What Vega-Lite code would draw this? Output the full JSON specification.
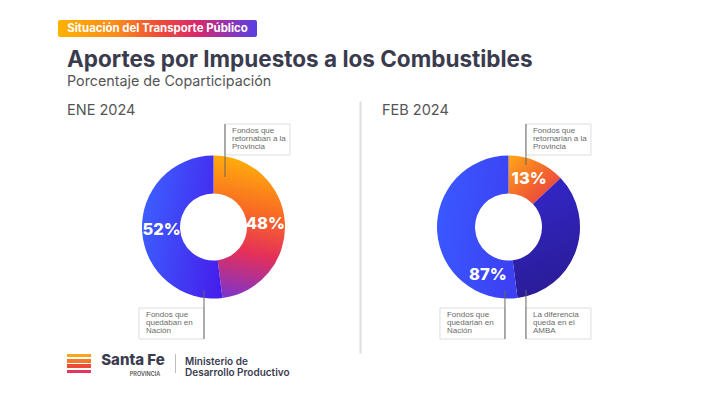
{
  "$schema": "https://vega.github.io/schema/vega-lite/v6.json",
  "background": "white",
  "padding": {"left": 58, "top": 20, "right": 0, "bottom": 0},
  "bounds": "flush",
  "spacing": 64,
  "config": {"view": {"stroke": null}, "font": "Inter"},
  "datasets": {
    "aportes": [
      {"mes": "ENE 2024", "destino": "Provincia", "grupo": "Provincia", "porcentaje": 0.48},
      {"mes": "ENE 2024", "destino": "Nación", "grupo": "Nación", "porcentaje": 0.52},
      {"mes": "FEB 2024", "destino": "Provincia", "grupo": "Provincia", "porcentaje": 0.13},
      {"mes": "FEB 2024", "destino": "AMBA", "grupo": "Nación", "porcentaje": 0.35},
      {"mes": "FEB 2024", "destino": "Nación", "grupo": "Nación", "porcentaje": 0.52}
    ],
    "notas": [
      {"mes": "ENE 2024", "destino": "Provincia", "texto": "Fondos que\nretornaban a la\nProvincia", "lado": "derecha", "nivel": "arriba"},
      {"mes": "ENE 2024", "destino": "Nación", "texto": "Fondos que\nquedaban en\nNación", "lado": "izquierda", "nivel": "abajo"},
      {"mes": "FEB 2024", "destino": "Provincia", "texto": "Fondos que\nretornarian a la\nProvincia", "lado": "derecha", "nivel": "arriba"},
      {"mes": "FEB 2024", "destino": "Nación", "texto": "Fondos que\nquedarian en\nNación", "lado": "izquierda", "nivel": "abajo"},
      {"mes": "FEB 2024", "destino": "AMBA", "texto": "La diferencia\nqueda en el\nAMBA", "lado": "derecha", "nivel": "abajo"}
    ]
  },
  "vconcat": [
    {
      "width": 199,
      "height": 17,
      "data": {"values": [{"etiqueta": "Situación del Transporte Público"}]},
      "layer": [
        {
          "mark": {"type": "rect", "xOffset": -9, "cornerRadius": 2,
            "fill": {"gradient": "linear", "x1": 0, "y1": 0, "x2": 1, "y2": 0, "stops": [
              {"offset": 0, "color": "#FFB200"}, {"offset": 0.3, "color": "#F98A1E"}, {"offset": 0.5, "color": "#EF4D37"},
              {"offset": 0.7, "color": "#D9286A"}, {"offset": 0.87, "color": "#8B35B8"}, {"offset": 1, "color": "#5740E3"}]}},
          "encoding": {
            "x": {"field": "etiqueta", "type": "nominal", "axis": null, "scale": {"type": "band", "paddingInner": 0, "paddingOuter": 0}}
          }
        },
        {
          "mark": {"type": "text", "dx": -9, "fontSize": 11.4, "fontWeight": 700, "fill": "white", "font": "Inter"},
          "encoding": {"text": {"field": "etiqueta"}}
        }
      ]
    },
    {
      "title": {
        "text": "Aportes por Impuestos a los Combustibles",
        "subtitle": "Porcentaje de Coparticipación",
        "anchor": "start", "font": "Inter", "fontSize": 22.5, "fontWeight": 700, "color": "#3A3B4D",
        "subtitleFont": "Inter", "subtitleFontSize": 14.3, "subtitleColor": "#555555", "subtitlePadding": 3,
        "offset": 12
      },
      "spacing": 0,
      "vconcat": [
        {
          "spacing": 2,
          "hconcat": [
            {
              "width": 293,
              "height": 252,
              "title": {"text": "ENE 2024", "anchor": "start", "fontSize": 14.5, "fontWeight": 400, "color": "#555555", "font": "Inter", "baseline": "alphabetic", "offset": -28},
              "layer": [
                {
                  "data": {"name": "aportes"},
                  "transform": [
                    {"filter": "datum.mes === 'ENE 2024'"},
                    {"stack": "porcentaje", "groupby": ["mes"], "sort": [{"field": "grupo", "order": "descending"}, {"field": "destino", "order": "ascending"}], "as": ["inicio", "fin"]},
                    {"filter": "datum.destino === 'Provincia'"}
                  ],
                  "mark": {"type": "arc", "innerRadius": 33.5, "outerRadius": 71.5,
                    "fill": {"gradient": "linear", "x1": 0.2, "y1": 0, "x2": 0.1, "y2": 1, "stops": [
                      {"offset": 0, "color": "#FFAE0A"}, {"offset": 0.35, "color": "#F96A24"}, {"offset": 0.65, "color": "#E42F5A"}, {"offset": 1, "color": "#7A34D0"}]}},
                  "encoding": {"theta": {"field": "inicio", "type": "quantitative", "scale": {"domain": [0, 1]}}, "theta2": {"field": "fin"}}
                },
                {
                  "data": {"name": "aportes"},
                  "transform": [
                    {"filter": "datum.mes === 'ENE 2024'"},
                    {"stack": "porcentaje", "groupby": ["mes"], "sort": [{"field": "grupo", "order": "descending"}, {"field": "destino", "order": "ascending"}], "as": ["inicio", "fin"]},
                    {"filter": "datum.destino === 'Nación'"}
                  ],
                  "mark": {"type": "arc", "innerRadius": 33.5, "outerRadius": 71.5,
                    "fill": {"gradient": "linear", "x1": 0, "y1": 0.4, "x2": 1, "y2": 0.7, "stops": [
                      {"offset": 0, "color": "#3D5EFF"}, {"offset": 1, "color": "#4520EC"}]}},
                  "encoding": {"theta": {"field": "inicio", "type": "quantitative", "scale": {"domain": [0, 1]}}, "theta2": {"field": "fin"}}
                },
                {
                  "data": {"name": "aportes"},
                  "transform": [
                    {"filter": "datum.mes === 'ENE 2024'"},
                    {"aggregate": [{"op": "sum", "field": "porcentaje", "as": "total"}], "groupby": ["grupo"]}
                  ],
                  "mark": {"type": "text", "radius": 52, "fontSize": 16.5, "fontWeight": 800, "fill": "white", "font": "Inter"},
                  "encoding": {
                    "theta": {"field": "total", "type": "quantitative", "stack": true, "scale": {"domain": [0, 1]}},
                    "order": {"field": "grupo", "sort": "descending"},
                    "text": {"field": "total", "type": "quantitative", "format": ".0%"}
                  }
                },
                {
                  "data": {"name": "notas"},
                  "transform": [{"filter": "datum.mes === 'ENE 2024'"}],
                  "mark": {"type": "rect", "fill": "white", "stroke": "#dedede", "strokeWidth": 1},
                  "encoding": {
                    "x": {"field": "lado", "type": "nominal", "axis": null, "scale": {"type": "band", "domain": ["izquierda", "derecha"], "paddingInner": 0.2442, "paddingOuter": 0.8256, "align": 0.507}},
                    "y": {"field": "nivel", "type": "nominal", "axis": {"orient": "right", "domain": true, "domainColor": "#dddddd", "domainWidth": 2, "ticks": false, "labels": false, "title": null, "grid": false}, "scale": {"type": "band", "domain": ["arriba", "abajo"], "paddingInner": 0.8315, "paddingOuter": 0.1005, "align": 0.6216}}
                  }
                },
                {
                  "data": {"name": "notas"},
                  "transform": [{"filter": "datum.mes === 'ENE 2024'"}],
                  "mark": {"type": "text", "align": "left", "baseline": "top", "dx": 7, "dy": 3, "lineBreak": "\n", "lineHeight": 8, "fontSize": 8, "font": "Liberation Sans", "fill": "#6b6b6b"},
                  "encoding": {
                    "x": {"field": "lado", "type": "nominal", "bandPosition": 0, "axis": null, "scale": {"type": "band", "domain": ["izquierda", "derecha"], "paddingInner": 0.2442, "paddingOuter": 0.8256, "align": 0.507}},
                    "y": {"field": "nivel", "type": "nominal", "bandPosition": 0, "axis": {"orient": "right", "domain": true, "domainColor": "#dddddd", "domainWidth": 2, "ticks": false, "labels": false, "title": null, "grid": false}, "scale": {"type": "band", "domain": ["arriba", "abajo"], "paddingInner": 0.8315, "paddingOuter": 0.1005, "align": 0.6216}},
                    "text": {"field": "texto"}
                  }
                },
                {
                  "data": {"name": "notas"},
                  "transform": [{"filter": "datum.mes === 'ENE 2024' && datum.lado === 'derecha' && datum.nivel === 'arriba'"}],
                  "mark": {"type": "rule", "stroke": "#666666", "strokeWidth": 1, "y2Offset": 37.5},
                  "encoding": {
                    "x": {"field": "lado", "type": "nominal", "bandPosition": 0, "axis": null, "scale": {"type": "band", "domain": ["izquierda", "derecha"], "paddingInner": 0.2442, "paddingOuter": 0.8256, "align": 0.507}},
                    "y": {"field": "nivel", "type": "nominal", "bandPosition": 0, "axis": {"orient": "right", "domain": true, "domainColor": "#dddddd", "domainWidth": 2, "ticks": false, "labels": false, "title": null, "grid": false}, "scale": {"type": "band", "domain": ["arriba", "abajo"], "paddingInner": 0.8315, "paddingOuter": 0.1005, "align": 0.6216}},
                    "y2": {"field": "nivel"}
                  }
                },
                {
                  "data": {"name": "notas"},
                  "transform": [{"filter": "datum.mes === 'ENE 2024' && datum.lado === 'izquierda' && datum.nivel === 'abajo'"}],
                  "mark": {"type": "rule", "stroke": "#666666", "strokeWidth": 1, "y2Offset": -33.5},
                  "encoding": {
                    "x": {"field": "lado", "type": "nominal", "bandPosition": 1, "axis": null, "scale": {"type": "band", "domain": ["izquierda", "derecha"], "paddingInner": 0.2442, "paddingOuter": 0.8256, "align": 0.507}},
                    "y": {"field": "nivel", "type": "nominal", "bandPosition": 1, "axis": {"orient": "right", "domain": true, "domainColor": "#dddddd", "domainWidth": 2, "ticks": false, "labels": false, "title": null, "grid": false}, "scale": {"type": "band", "domain": ["arriba", "abajo"], "paddingInner": 0.8315, "paddingOuter": 0.1005, "align": 0.6216}},
                    "y2": {"field": "nivel"}
                  }
                }
              ]
            },
            {
              "width": 293,
              "height": 252,
              "title": {"text": "FEB 2024", "anchor": "start", "fontSize": 14.5, "fontWeight": 400, "color": "#555555", "font": "Inter", "baseline": "alphabetic", "offset": -28, "dx": 20},
              "layer": [
                {
                  "data": {"name": "aportes"},
                  "transform": [
                    {"filter": "datum.mes === 'FEB 2024'"},
                    {"stack": "porcentaje", "groupby": ["mes"], "sort": [{"field": "grupo", "order": "descending"}, {"field": "destino", "order": "ascending"}], "as": ["inicio", "fin"]},
                    {"filter": "datum.destino === 'Provincia'"}
                  ],
                  "mark": {"type": "arc", "innerRadius": 33.5, "outerRadius": 71.5,
                    "fill": {"gradient": "linear", "x1": 0, "y1": 0, "x2": 1, "y2": 1, "stops": [
                      {"offset": 0, "color": "#FFA818"}, {"offset": 0.5, "color": "#F4682C"}, {"offset": 1, "color": "#E4344E"}]}},
                  "encoding": {"theta": {"field": "inicio", "type": "quantitative", "scale": {"domain": [0, 1]}}, "theta2": {"field": "fin"}}
                },
                {
                  "data": {"name": "aportes"},
                  "transform": [
                    {"filter": "datum.mes === 'FEB 2024'"},
                    {"stack": "porcentaje", "groupby": ["mes"], "sort": [{"field": "grupo", "order": "descending"}, {"field": "destino", "order": "ascending"}], "as": ["inicio", "fin"]},
                    {"filter": "datum.destino === 'AMBA'"}
                  ],
                  "mark": {"type": "arc", "innerRadius": 33.5, "outerRadius": 71.5,
                    "fill": {"gradient": "linear", "x1": 0, "y1": 0, "x2": 0.2, "y2": 1, "stops": [
                      {"offset": 0, "color": "#3428CC"}, {"offset": 1, "color": "#2A1C98"}]}},
                  "encoding": {"theta": {"field": "inicio", "type": "quantitative", "scale": {"domain": [0, 1]}}, "theta2": {"field": "fin"}}
                },
                {
                  "data": {"name": "aportes"},
                  "transform": [
                    {"filter": "datum.mes === 'FEB 2024'"},
                    {"stack": "porcentaje", "groupby": ["mes"], "sort": [{"field": "grupo", "order": "descending"}, {"field": "destino", "order": "ascending"}], "as": ["inicio", "fin"]},
                    {"filter": "datum.destino === 'Nación'"}
                  ],
                  "mark": {"type": "arc", "innerRadius": 33.5, "outerRadius": 71.5,
                    "fill": {"gradient": "linear", "x1": 0, "y1": 0.4, "x2": 1, "y2": 0.6, "stops": [
                      {"offset": 0, "color": "#3A58FF"}, {"offset": 1, "color": "#3C40F2"}]}},
                  "encoding": {"theta": {"field": "inicio", "type": "quantitative", "scale": {"domain": [0, 1]}}, "theta2": {"field": "fin"}}
                },
                {
                  "data": {"name": "aportes"},
                  "transform": [
                    {"filter": "datum.mes === 'FEB 2024'"},
                    {"aggregate": [{"op": "sum", "field": "porcentaje", "as": "total"}], "groupby": ["grupo"]}
                  ],
                  "mark": {"type": "text", "radius": 52, "fontSize": 16.5, "fontWeight": 800, "fill": "white", "font": "Inter"},
                  "encoding": {
                    "theta": {"field": "total", "type": "quantitative", "stack": true, "scale": {"domain": [0, 1]}},
                    "order": {"field": "grupo", "sort": "descending"},
                    "text": {"field": "total", "type": "quantitative", "format": ".0%"}
                  }
                },
                {
                  "data": {"name": "notas"},
                  "transform": [{"filter": "datum.mes === 'FEB 2024'"}],
                  "mark": {"type": "rect", "fill": "white", "stroke": "#dedede", "strokeWidth": 1},
                  "encoding": {
                    "x": {"field": "lado", "type": "nominal", "axis": null, "scale": {"type": "band", "domain": ["izquierda", "derecha"], "paddingInner": 0.2442, "paddingOuter": 0.8256, "align": 0.549}},
                    "y": {"field": "nivel", "type": "nominal", "axis": null, "scale": {"type": "band", "domain": ["arriba", "abajo"], "paddingInner": 0.8315, "paddingOuter": 0.1005, "align": 0.6216}}
                  }
                },
                {
                  "data": {"name": "notas"},
                  "transform": [{"filter": "datum.mes === 'FEB 2024'"}],
                  "mark": {"type": "text", "align": "left", "baseline": "top", "dx": 7, "dy": 3, "lineBreak": "\n", "lineHeight": 8, "fontSize": 8, "font": "Liberation Sans", "fill": "#6b6b6b"},
                  "encoding": {
                    "x": {"field": "lado", "type": "nominal", "bandPosition": 0, "axis": null, "scale": {"type": "band", "domain": ["izquierda", "derecha"], "paddingInner": 0.2442, "paddingOuter": 0.8256, "align": 0.549}},
                    "y": {"field": "nivel", "type": "nominal", "bandPosition": 0, "axis": null, "scale": {"type": "band", "domain": ["arriba", "abajo"], "paddingInner": 0.8315, "paddingOuter": 0.1005, "align": 0.6216}},
                    "text": {"field": "texto"}
                  }
                },
                {
                  "data": {"name": "notas"},
                  "transform": [{"filter": "datum.mes === 'FEB 2024' && datum.lado === 'derecha' && datum.nivel === 'arriba'"}],
                  "mark": {"type": "rule", "stroke": "#666666", "strokeWidth": 1, "y2Offset": 25.5},
                  "encoding": {
                    "x": {"field": "lado", "type": "nominal", "bandPosition": 0, "axis": null, "scale": {"type": "band", "domain": ["izquierda", "derecha"], "paddingInner": 0.2442, "paddingOuter": 0.8256, "align": 0.549}},
                    "y": {"field": "nivel", "type": "nominal", "bandPosition": 0, "axis": null, "scale": {"type": "band", "domain": ["arriba", "abajo"], "paddingInner": 0.8315, "paddingOuter": 0.1005, "align": 0.6216}},
                    "y2": {"field": "nivel"}
                  }
                },
                {
                  "data": {"name": "notas"},
                  "transform": [{"filter": "datum.mes === 'FEB 2024' && datum.lado === 'izquierda' && datum.nivel === 'abajo'"}],
                  "mark": {"type": "rule", "stroke": "#666666", "strokeWidth": 1, "y2Offset": -33.5},
                  "encoding": {
                    "x": {"field": "lado", "type": "nominal", "bandPosition": 1, "axis": null, "scale": {"type": "band", "domain": ["izquierda", "derecha"], "paddingInner": 0.2442, "paddingOuter": 0.8256, "align": 0.549}},
                    "y": {"field": "nivel", "type": "nominal", "bandPosition": 1, "axis": null, "scale": {"type": "band", "domain": ["arriba", "abajo"], "paddingInner": 0.8315, "paddingOuter": 0.1005, "align": 0.6216}},
                    "y2": {"field": "nivel"}
                  }
                },
                {
                  "data": {"name": "notas"},
                  "transform": [{"filter": "datum.mes === 'FEB 2024' && datum.lado === 'derecha' && datum.nivel === 'abajo'"}],
                  "mark": {"type": "rule", "stroke": "#666666", "strokeWidth": 1, "y2Offset": -33.5},
                  "encoding": {
                    "x": {"field": "lado", "type": "nominal", "bandPosition": 0, "axis": null, "scale": {"type": "band", "domain": ["izquierda", "derecha"], "paddingInner": 0.2442, "paddingOuter": 0.8256, "align": 0.549}},
                    "y": {"field": "nivel", "type": "nominal", "bandPosition": 1, "axis": null, "scale": {"type": "band", "domain": ["arriba", "abajo"], "paddingInner": 0.8315, "paddingOuter": 0.1005, "align": 0.6216}},
                    "y2": {"field": "nivel"}
                  }
                }
              ]
            }
          ]
        },
        {
          "spacing": 9,
          "hconcat": [
            {
              "width": 24,
              "height": 19,
              "data": {"values": [{"marca": "Santa Fe"}]},
              "mark": {"type": "rect",
                "fill": {"gradient": "linear", "x1": 0, "y1": 0, "x2": 0, "y2": 1, "stops": [
                  {"offset": 0, "color": "#FBA51A"}, {"offset": 0.17, "color": "#FBA51A"}, {"offset": 0.17, "color": "#ffffff"}, {"offset": 0.28, "color": "#ffffff"},
                  {"offset": 0.28, "color": "#F47A2A"}, {"offset": 0.45, "color": "#F47A2A"}, {"offset": 0.45, "color": "#ffffff"}, {"offset": 0.55, "color": "#ffffff"},
                  {"offset": 0.55, "color": "#EC4B3A"}, {"offset": 0.72, "color": "#EC4B3A"}, {"offset": 0.72, "color": "#ffffff"}, {"offset": 0.83, "color": "#ffffff"},
                  {"offset": 0.83, "color": "#E5375A"}, {"offset": 1, "color": "#E5375A"}]}},
              "encoding": {}
            },
            {
              "width": 66,
              "height": 22,
              "data": {"values": [{"marca": "Santa Fe", "provincia": "PROVINCIA"}]},
              "layer": [
                {"mark": {"type": "text", "fontSize": 15, "fontWeight": 800, "fill": "#3B3C4F", "baseline": "alphabetic", "font": "Inter"}, "encoding": {"text": {"field": "marca"}}},
                {"mark": {"type": "text", "fontSize": 5.5, "fontWeight": 600, "fill": "#555555", "dx": 12, "dy": 9, "font": "Inter"}, "encoding": {"text": {"field": "provincia"}}}
              ]
            },
            {
              "width": 1,
              "height": 19,
              "data": {"values": [{"marca": "Santa Fe"}]},
              "mark": {"type": "rect", "fill": "#bdbdbd"},
              "encoding": {}
            },
            {
              "width": 110,
              "height": 22,
              "data": {"values": [{"ministerio": "Ministerio de\nDesarrollo Productivo"}]},
              "mark": {"type": "text", "align": "left", "baseline": "alphabetic", "lineBreak": "\n", "lineHeight": 11, "fontSize": 10, "fontWeight": 600, "fill": "#3B3C4F", "font": "Inter"},
              "encoding": {
                "x": {"field": "ministerio", "type": "nominal", "bandPosition": 0, "axis": null, "scale": {"type": "band", "paddingInner": 0, "paddingOuter": 0}},
                "text": {"field": "ministerio"}
              }
            }
          ]
        }
      ]
    }
  ]
}
